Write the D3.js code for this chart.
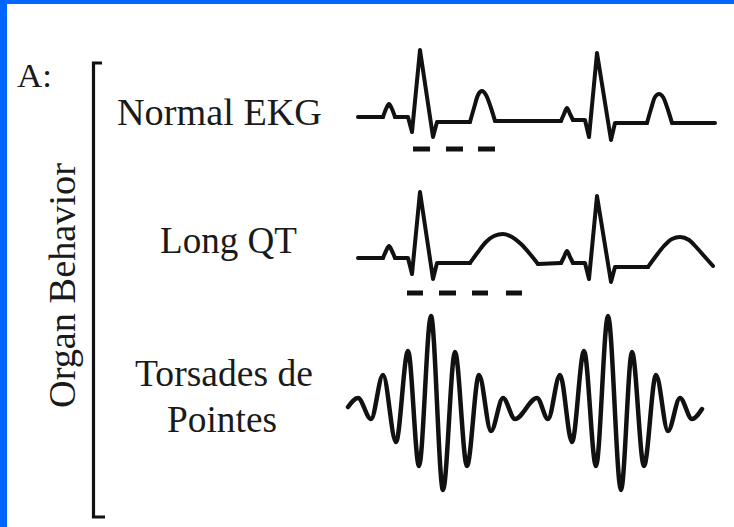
<!DOCTYPE html>
<html>
<head>
<meta charset="utf-8">
<script src="https://cdn.jsdelivr.net/npm/d3@7"></script>
<style>
  html, body { margin: 0; padding: 0; background: #fff; }
  svg { display: block; }
</style>
</head>
<body>
<div id="chart"></div>
<script>
// ---------- DATA (time in ms, amplitude in mV) ----------
const rowLabels = ["Normal EKG", "Long QT", "Torsades de", "Pointes"];
const panelLabel = "A:";
const axisTitle = "Organ Behavior";

// Normal EKG: segments, "linear" for sharp parts, "smooth" for P/T waves
const normalEKG = [
  {curve: "linear", pts: [[0, 0.04], [125, 0.04]]},
  {curve: "smooth", pts: [[125, 0.04], [140, 0.2], [155, 0.3], [170, 0.2], [185, 0.04]]},
  {curve: "linear", pts: [[185, 0.04], [250, 0.04], [270, -0.26], [310, 1.38], [375, -0.36], [395, -0.06], [560, -0.06]]},
  {curve: "smooth", pts: [[560, -0.06], [580, 0.22], [600, 0.48], [620, 0.56], [640, 0.48], [665, 0.22], [685, -0.04]]},
  {curve: "linear", pts: [[685, -0.04], [1015, -0.04]]},
  {curve: "smooth", pts: [[1015, -0.04], [1030, 0.1], [1045, 0.22], [1060, 0.1], [1075, -0.02]]},
  {curve: "linear", pts: [[1075, -0.02], [1135, -0.02], [1155, -0.36], [1195, 1.32], [1265, -0.42], [1285, -0.08], [1445, -0.08]]},
  {curve: "smooth", pts: [[1445, -0.08], [1465, 0.2], [1485, 0.44], [1505, 0.5], [1525, 0.44], [1550, 0.18], [1570, -0.08]]},
  {curve: "linear", pts: [[1570, -0.08], [1785, -0.08]]}
];
const normalDashes = [[275, 360], [440, 525], [600, 685]];
const normalDashLevel = -0.6;

const longQT = [
  {curve: "linear", pts: [[0, 0.04], [125, 0.04]]},
  {curve: "smooth", pts: [[125, 0.04], [140, 0.18], [155, 0.28], [170, 0.18], [185, 0.04]]},
  {curve: "linear", pts: [[185, 0.04], [250, 0.04], [270, -0.28], [310, 1.36], [375, -0.38], [395, -0.06], [560, -0.06]]},
  {curve: "smooth", pts: [[560, -0.06], [600, 0.16], [640, 0.36], [680, 0.48], [725, 0.52], [770, 0.46], [815, 0.32], [860, 0.12], [900, -0.08]]},
  {curve: "linear", pts: [[900, -0.08], [1015, -0.06]]},
  {curve: "smooth", pts: [[1015, -0.06], [1030, 0.06], [1045, 0.18], [1060, 0.06], [1075, -0.06]]},
  {curve: "linear", pts: [[1075, -0.06], [1135, -0.06], [1155, -0.38], [1195, 1.28], [1265, -0.44], [1285, -0.14], [1450, -0.14]]},
  {curve: "smooth", pts: [[1450, -0.14], [1490, 0.08], [1530, 0.28], [1570, 0.42], [1610, 0.46], [1655, 0.4], [1695, 0.24], [1735, 0.06], [1775, -0.12]]}
];
const longQTDashes = [[245, 325], [405, 490], [570, 650], [740, 820]];
const longQTDashLevel = -0.66;

// Torsades de Pointes: extrema of the twisting oscillation
const torsadesTime = [-50, 0, 65, 125, 190, 250, 305, 365, 425, 485, 545, 605, 665, 725, 785,
                      895, 950, 1010, 1070, 1130, 1190, 1250, 1315, 1370, 1430, 1490, 1550, 1610, 1670, 1720];
const torsadesAmp  = [-0.08, 0.1, -0.32, 0.56, -0.78, 1.04, -1.26, 1.74, -1.74, 1.02, -1.26, 0.56, -0.56, 0.1, -0.32,
                      0.1, -0.32, 0.56, -0.78, 1.04, -1.26, 1.74, -1.74, 1.02, -1.26, 0.56, -0.56, 0.1, -0.32, -0.12];

// ---------- DRAWING ----------
const W = 734, H = 527;
const svg = d3.select("#chart").append("svg").attr("width", W).attr("height", H);

svg.append("rect").attr("width", W).attr("height", H).attr("fill", "#0066ff");
svg.append("rect").attr("x", 7).attr("y", 4).attr("width", W - 7).attr("height", H - 4).attr("fill", "#ffffff");

const x = d3.scaleLinear().domain([0, 1785]).range([358, 715]);
const rowY = base => d3.scaleLinear().domain([-1, 1]).range([base + 50, base - 50]);
const yNormal = rowY(119), yLQT = rowY(260), yTdP = rowY(403);

const ink = "#111";

function drawSegments(segs, y) {
  const g = svg.append("g");
  segs.forEach(s => {
    const line = d3.line().x(d => x(d[0])).y(d => y(d[1]))
      .curve(s.curve === "smooth" ? d3.curveMonotoneX : d3.curveLinear);
    g.append("path").attr("d", line(s.pts)).attr("fill", "none")
      .attr("stroke", ink).attr("stroke-width", 4)
      .attr("stroke-linejoin", "round").attr("stroke-linecap", "round");
  });
}
function drawDashes(dashes, level, y) {
  svg.append("g").selectAll("line").data(dashes).join("line")
    .attr("x1", d => x(d[0])).attr("x2", d => x(d[1]))
    .attr("y1", y(level)).attr("y2", y(level))
    .attr("stroke", ink).attr("stroke-width", 5);
}

drawSegments(normalEKG, yNormal);
drawDashes(normalDashes, normalDashLevel, yNormal);
drawSegments(longQT, yLQT);
drawDashes(longQTDashes, longQTDashLevel, yLQT);

const tdp = torsadesTime.map((t, i) => [t, torsadesAmp[i]]);
svg.append("path")
  .attr("d", d3.line().x(d => x(d[0])).y(d => yTdP(d[1])).curve(d3.curveMonotoneX)(tdp))
  .attr("fill", "none").attr("stroke", ink).attr("stroke-width", 4.5)
  .attr("stroke-linejoin", "round").attr("stroke-linecap", "round");

// bracket
svg.append("path")
  .attr("d", d3.line()([[102, 63], [93.5, 63], [93.5, 517], [105, 517]]))
  .attr("fill", "none").attr("stroke", ink).attr("stroke-width", 3.2);

// texts
const font = "'Liberation Serif', 'Times New Roman', Times, serif";
const txt = (s, px, py, size, len) => svg.append("text")
  .attr("x", px).attr("y", py).attr("font-family", font).attr("font-size", size)
  .attr("fill", "#1a1a1a").attr("textLength", len).attr("lengthAdjust", "spacingAndGlyphs").text(s);

txt(panelLabel, 17, 87, 34, 35);
txt(rowLabels[0], 117, 125, 37, 205);
txt(rowLabels[1], 160, 253, 37, 137);
txt(rowLabels[2], 135, 386, 37, 178);
txt(rowLabels[3], 167, 432, 37, 110);

svg.append("text")
  .attr("transform", "translate(75,408) rotate(-90)")
  .attr("font-family", font).attr("font-size", 38).attr("fill", "#1a1a1a")
  .attr("textLength", 245).attr("lengthAdjust", "spacingAndGlyphs")
  .text(axisTitle);
</script>
</body>
</html>
